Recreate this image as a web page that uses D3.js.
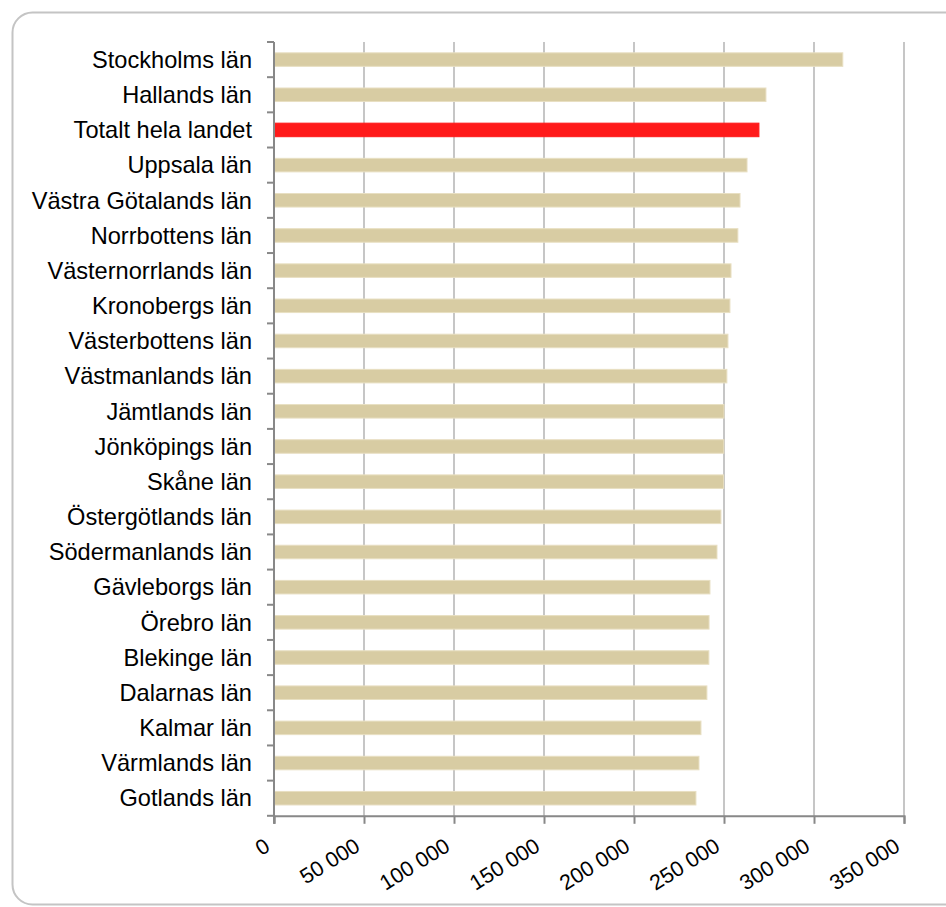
<!DOCTYPE html>
<html>
<head>
<meta charset="utf-8">
<script src="https://cdn.jsdelivr.net/npm/d3@7"></script>
<style>
  body { margin: 0; background: #fff; }
  text { font-family: "Liberation Sans", Arial, sans-serif; fill: #000; }
</style>
</head>
<body>
<div id="chart"></div>
<script>
// län, sorterade som i originalet
const lan = [
  'Stockholms län', 'Hallands län', 'Totalt hela landet', 'Uppsala län',
  'Västra Götalands län', 'Norrbottens län', 'Västernorrlands län', 'Kronobergs län',
  'Västerbottens län', 'Västmanlands län', 'Jämtlands län', 'Jönköpings län',
  'Skåne län', 'Östergötlands län', 'Södermanlands län', 'Gävleborgs län',
  'Örebro län', 'Blekinge län', 'Dalarnas län', 'Kalmar län',
  'Värmlands län', 'Gotlands län'
];
const varden = [
  316000, 273300, 269400, 262800, 258900, 257700, 253900, 253300,
  252200, 251600, 250000, 249900, 249800, 248300, 246100, 242200,
  241700, 241600, 240500, 237200, 236100, 234400
];
const xTicks = [0, 50000, 100000, 150000, 200000, 250000, 300000, 350000];
const markerad = 'Totalt hela landet';

const width = 946;
const height = 907;
const margin = { top: 42, right: 42, bottom: 92, left: 274 };

const svg = d3.select('#chart')
  .append('svg')
  .attr('width', width)
  .attr('height', height);

// ram med rundade hörn
svg.append('rect')
  .attr('x', 12.5).attr('y', 12.5)
  .attr('width', 960).attr('height', 892)
  .attr('rx', 20).attr('ry', 20)
  .attr('fill', 'none')
  .attr('stroke', '#c4c4c4')
  .attr('stroke-width', 2);

const x = d3.scaleLinear()
  .domain([0, 350000])
  .range([margin.left, width - margin.right]);

const y = d3.scaleBand()
  .domain(lan)
  .range([margin.top, height - margin.bottom + 0.8]);

const barH = y.bandwidth() * 0.385;

// stödlinjer
svg.append('g')
  .selectAll('line')
  .data(xTicks.slice(1))
  .join('line')
  .attr('x1', d => x(d)).attr('x2', d => x(d))
  .attr('y1', margin.top).attr('y2', y.range()[1])
  .attr('stroke', '#c6c6c6')
  .attr('stroke-width', 2);

// staplar
svg.append('g')
  .selectAll('rect')
  .data(lan)
  .join('rect')
  .attr('x', x(0))
  .attr('y', (d) => y(d) + (y.bandwidth() - barH) / 2)
  .attr('width', (d, i) => x(varden[i]) - x(0))
  .attr('height', barH)
  .attr('fill', d => d === markerad ? '#ff1a1a' : '#d8cca3')
  .attr('stroke', d => d === markerad ? '#ff1a1a' : '#e8dfc2')
  .attr('stroke-width', 1);

// x-axel
const yBottom = y.range()[1];
const xAxis = svg.append('g')
  .attr('transform', `translate(0, ${yBottom})`)
  .call(d3.axisBottom(x).tickValues(xTicks).tickSize(8)
    .tickFormat(d => d3.format(',')(d).replace(/,/g, ' ')));
xAxis.select('.domain').attr('stroke', '#888').attr('stroke-width', 2);
xAxis.selectAll('.tick line').attr('stroke', '#888').attr('stroke-width', 2);
xAxis.selectAll('.tick text')
  .attr('font-size', '21.5px')
  .attr('text-anchor', 'end')
  .attr('y', 0).attr('dy', 0)
  .attr('transform', 'translate(-3, 34) rotate(-32)');

// y-axel med streck mellan kategorierna
const yAxis = svg.append('g');
yAxis.append('line')
  .attr('x1', x(0)).attr('x2', x(0))
  .attr('y1', margin.top).attr('y2', yBottom + 8)
  .attr('stroke', '#888').attr('stroke-width', 2);
yAxis.selectAll('.gräns')
  .data(lan.concat(['__slut']))
  .join('line')
  .attr('class', 'gräns')
  .attr('x1', x(0) - 7).attr('x2', x(0))
  .attr('y1', d => d === '__slut' ? yBottom : y(d))
  .attr('y2', d => d === '__slut' ? yBottom : y(d))
  .attr('stroke', '#888').attr('stroke-width', 2);
yAxis.selectAll('text')
  .data(lan)
  .join('text')
  .attr('x', x(0) - 22)
  .attr('y', d => y(d) + y.bandwidth() / 2)
  .attr('dy', '0.35em')
  .attr('text-anchor', 'end')
  .attr('font-size', '23.6px')
  .text(d => d);
</script>
</body>
</html>
